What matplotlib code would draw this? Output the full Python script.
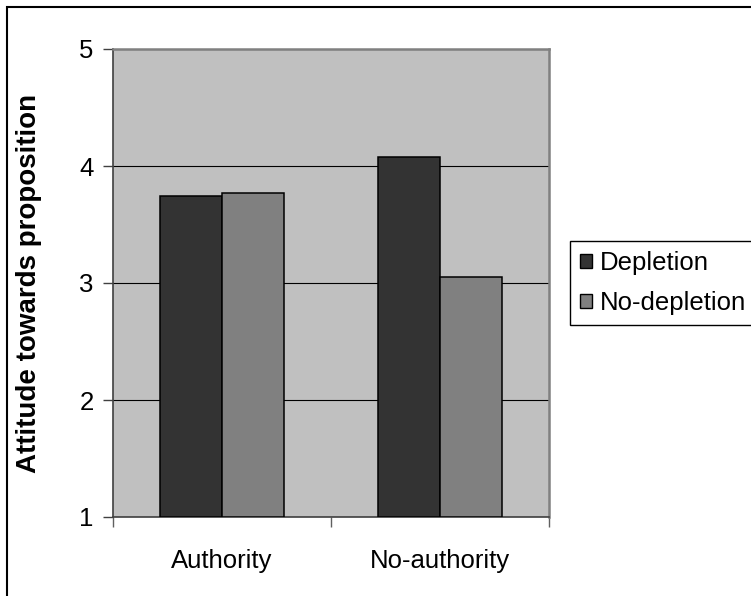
"""
Grouped bar chart: attitude towards proposition by authority and depletion
"""

import numpy as np
import matplotlib.pyplot as plt
from matplotlib.patches import Patch, Rectangle

plt.rcParams['font.family'] = ['Liberation Sans', 'DejaVu Sans']

categories = ['Authority', 'No-authority']
series_names = ['Depletion', 'No-depletion']
depletion = [3.74, 4.08]
no_depletion = [3.77, 3.05]
y_ticks = [1, 2, 3, 4, 5]

COLORS = ['#333333', '#808080']
BG_COLOR = '#c0c0c0'
W, H = 751, 596
FS = 18.5

fig = plt.figure(figsize=(W / 100, H / 100), dpi=100)
ax = fig.add_axes([113 / W, 1 - 517 / H, 436 / W, 468 / H])
ax.set_facecolor(BG_COLOR)

x = np.arange(len(categories))
width = 0.284
for i, (vals, name) in enumerate(zip([depletion, no_depletion],
                                     series_names)):
    offset = (i - 0.5) * width
    ax.bar(x + offset, np.array(vals) - 1, width, bottom=1,
           color=COLORS[i], edgecolor='black', linewidth=1.1, zorder=3,
           label=name)

# Axis limits and grid
ax.set_xlim(-0.5, len(categories) - 0.5)
ax.set_ylim(y_ticks[0], y_ticks[-1])
ax.set_yticks(y_ticks)
ax.yaxis.grid(True, color='black', linewidth=0.8, zorder=1)
ax.set_axisbelow(True)

# Category ticks sit on the group boundaries, labels in the middle
ax.set_xticks(np.arange(len(categories) + 1) - 0.5)
ax.set_xticklabels([])
ax.set_xticks(x, minor=True)
ax.set_xticklabels(categories, minor=True, fontsize=FS)
ax.tick_params(axis='x', which='minor', length=0, pad=23)
ax.tick_params(axis='x', which='major', length=7, width=1,
               color='#606060', direction='out')
ax.tick_params(axis='y', length=7, width=1, color='#404040', labelsize=FS,
               pad=7)

for side in ['left', 'bottom']:
    ax.spines[side].set_color('#404040')
    ax.spines[side].set_linewidth(1.2)
for side in ['top', 'right']:
    ax.spines[side].set_color('#808080')
    ax.spines[side].set_linewidth(1.8)

fig.text(29 / W, 1 - 283 / H, 'Attitude towards proposition', rotation=90,
         ha='center', va='center', fontsize=20, fontweight='bold')

# Legend
handles = [Patch(facecolor=c, edgecolor='black', linewidth=1.0)
           for c in COLORS]
leg = fig.legend(handles, series_names, loc='upper left',
                 bbox_to_anchor=(570 / W, 1 - 241 / H), fontsize=FS,
                 handlelength=0.45, handleheight=0.45, handletextpad=0.3,
                 labelspacing=0.62, borderpad=0.4, borderaxespad=0,
                 fancybox=False, framealpha=1, edgecolor='black')
leg.get_frame().set_linewidth(1.0)

# Chart border
fig.patches.append(Rectangle((7 / W, -0.1), 1.0, 1.1 - 7 / H,
                             transform=fig.transFigure, fill=False,
                             edgecolor='black', linewidth=1.5))

fig.savefig('out.png', dpi=100)
